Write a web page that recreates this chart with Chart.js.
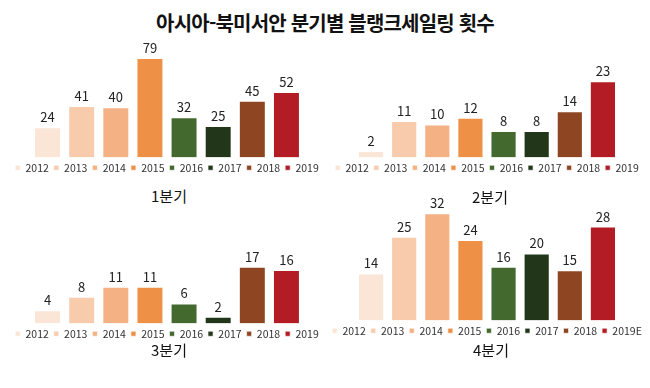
<!DOCTYPE html>
<html lang="ko">
<head>
<meta charset="utf-8">
<script src="https://cdn.jsdelivr.net/npm/chart.js@4.4.1/dist/chart.umd.min.js"></script>
<style>
  body { margin: 0; width: 650px; height: 388px; background: #fff; position: relative; overflow: hidden;
         font-family: "Noto Sans CJK KR", sans-serif; }
  canvas { position: absolute; }
  .title { position: absolute; left: 0; top: 8px; width: 650px; text-align: center; letter-spacing: -0.8px;
           font-size: 20px; line-height: 30px; font-weight: bold; color: #111; }
  .sub { position: absolute; width: 100px; text-align: center; font-size: 15px; line-height: 20px; color: #111; }
</style>
</head>
<body>

<div class="title">아시아-북미서안 분기별 블랭크세일링 횟수</div>

<canvas id="q1" width="366" height="153" style="left:-16px; top:30px;"></canvas>
<canvas id="q2" width="366" height="153" style="left:304px; top:30px;"></canvas>
<canvas id="q3" width="366" height="139" style="left:-16px; top:210px;"></canvas>
<canvas id="q4" width="366" height="161" style="left:304px; top:185px;"></canvas>

<div class="sub" style="left:119px; top:186px;">1분기</div>
<div class="sub" style="left:440px; top:187px;">2분기</div>
<div class="sub" style="left:119px; top:340px;">3분기</div>
<div class="sub" style="left:441px; top:340px;">4분기</div>

<script>
const years = ["2012", "2013", "2014", "2015", "2016", "2017", "2018", "2019"];
const yearsQ4 = ["2012", "2013", "2014", "2015", "2016", "2017", "2018", "2019E"];

const q1 = [24, 41, 40, 79, 32, 25, 45, 52];
const q2 = [2, 11, 10, 12, 8, 8, 14, 23];
const q3 = [4, 8, 11, 11, 6, 2, 17, 16];
const q4 = [14, 25, 32, 24, 16, 20, 15, 28];

const colors = ["#FBE5D6", "#F8CBAD", "#F4B183", "#EE9146", "#43692F", "#22361A", "#8E4622", "#B31C25"];

// value labels above each bar
const valueLabels = {
    id: "valueLabels",
    afterDatasetsDraw(chart) {
        const ctx = chart.ctx;
        ctx.save();
        ctx.font = "13px 'Noto Sans CJK KR'";
        ctx.fillStyle = "#222";
        ctx.textAlign = "center";
        ctx.textBaseline = "middle";
        chart.data.datasets.forEach((ds, i) => {
            chart.getDatasetMeta(i).data.forEach((bar, j) => {
                ctx.fillText(ds.data[j], bar.x, bar.y - 10);
            });
        });
        ctx.restore();
    }
};

function drawQuarter(id, values, labels, yMax, catPct) {

    const datasets = values.map((v, i) => ({
        label: labels[i],
        data: [v],
        backgroundColor: colors[i],
        borderColor: "rgba(255,255,255,0.6)",
        borderWidth: 1,
        categoryPercentage: catPct,
        barPercentage: 0.79
    }));

    new Chart(document.getElementById(id), {
        type: "bar",
        data: {
            labels: [""],
            datasets: datasets
        },
        options: {
            responsive: false,
            animation: false,
            layout: { padding: 0 },
            plugins: {
                legend: {
                    position: "bottom",
                    labels: {
                        boxWidth: 5,
                        boxHeight: 5,
                        padding: 5,
                        color: "#333",
                        font: { size: 10.5, family: "'Noto Sans CJK KR'" }
                    }
                },
                tooltip: { enabled: false }
            },
            scales: {
                x: { display: false },
                y: { display: false, min: 0, max: yMax }
            }
        },
        plugins: [valueLabels]
    });

}

drawQuarter("q1", q1, years, 101.3, 0.746);
drawQuarter("q2", q2, years, 38.5, 0.724);
drawQuarter("q3", q3, years, 34, 0.746);
drawQuarter("q4", q4, yearsQ4, 40.4, 0.724);
</script>
</body>
</html>
